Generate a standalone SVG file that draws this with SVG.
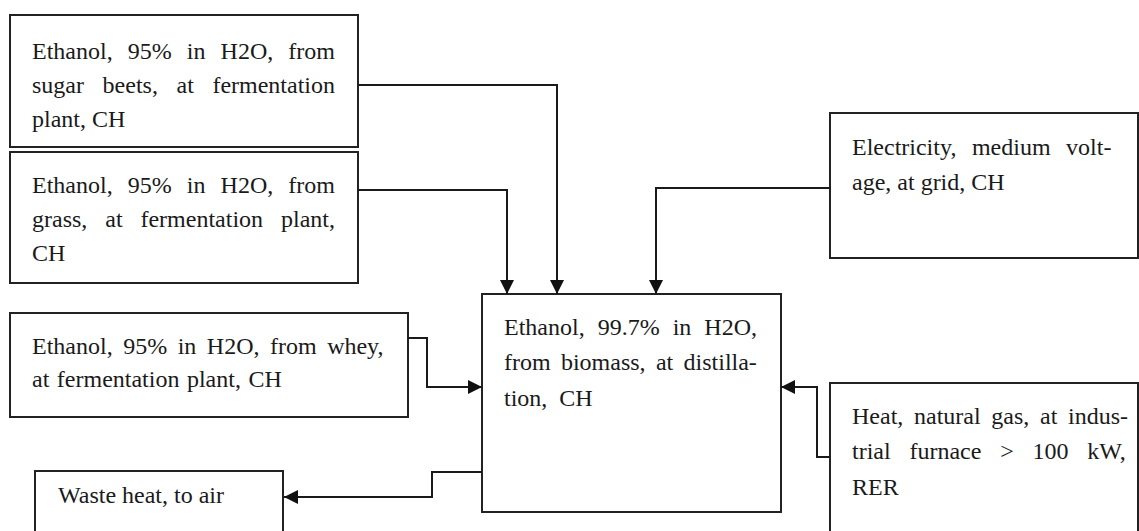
<svg xmlns="http://www.w3.org/2000/svg" width="1139" height="531" viewBox="0 0 1139 531">
  <style>
    .box { fill: #ffffff; stroke: #222222; stroke-width: 2; }
    .lbl { font-family: "Liberation Serif", "Times New Roman", serif; font-size: 24px; fill: #1a1a1a; }
    .wire { fill: none; stroke: #1a1a1a; stroke-width: 2; }
  </style>
  <defs>
    <marker id="arrow" markerUnits="userSpaceOnUse" markerWidth="14" markerHeight="14" refX="14" refY="7" orient="auto">
      <path d="M0,0 L14,7 L0,14 Z" fill="#111111"/>
    </marker>
  </defs>
  <rect width="1139" height="531" fill="#ffffff"/>

  <g id="sugar-beets">
    <rect class="box" x="10" y="15" width="348" height="132"/>
    <text class="lbl" x="32" y="59" word-spacing="9.1">Ethanol, 95% in H2O, from</text>
    <text class="lbl" x="32" y="93" word-spacing="12.6">sugar beets, at fermentation</text>
    <text class="lbl" x="32" y="127">plant, CH</text>
  </g>

  <g id="grass">
    <rect class="box" x="10" y="152" width="348" height="131"/>
    <text class="lbl" x="32" y="193" word-spacing="9.1">Ethanol, 95% in H2O, from</text>
    <text class="lbl" x="32" y="227" word-spacing="11.9">grass, at fermentation plant,</text>
    <text class="lbl" x="32" y="261">CH</text>
  </g>

  <g id="whey">
    <rect class="box" x="10" y="313" width="398" height="104"/>
    <text class="lbl" x="32" y="354" word-spacing="4.5">Ethanol, 95% in H2O, from whey,</text>
    <text class="lbl" x="32" y="387" word-spacing="1.5">at fermentation plant, CH</text>
  </g>

  <g id="waste-heat">
    <rect class="box" x="35" y="471" width="248" height="80"/>
    <text class="lbl" x="58" y="503">Waste heat, to air</text>
  </g>

  <g id="distillation">
    <rect class="box" x="482" y="294" width="299" height="218"/>
    <text class="lbl" x="504" y="335" word-spacing="7">Ethanol, 99.7% in H2O,</text>
    <text class="lbl" x="504" y="370" word-spacing="4.3">from biomass, at distilla-</text>
    <text class="lbl" x="504" y="406" word-spacing="6">tion, CH</text>
  </g>

  <g id="electricity">
    <rect class="box" x="830" y="113" width="308" height="145"/>
    <text class="lbl" x="852" y="155" word-spacing="9.5">Electricity, medium volt-</text>
    <text class="lbl" x="852" y="190">age, at grid, CH</text>
  </g>

  <g id="natural-gas-heat">
    <rect class="box" x="830" y="383" width="308" height="160"/>
    <text class="lbl" x="852" y="424" word-spacing="4.7">Heat, natural gas, at indus-</text>
    <text class="lbl" x="852" y="459" word-spacing="12.8">trial furnace &gt; 100 kW,</text>
    <text class="lbl" x="852" y="495">RER</text>
  </g>

  <g id="connectors">
    <path class="wire" d="M358,85 H557 V294" marker-end="url(#arrow)"/>
    <path class="wire" d="M358,190 H507 V294" marker-end="url(#arrow)"/>
    <path class="wire" d="M830,188 H656 V294" marker-end="url(#arrow)"/>
    <path class="wire" d="M408,338 H427 V387 H482" marker-end="url(#arrow)"/>
    <path class="wire" d="M830,457 H817 V387 H781" marker-end="url(#arrow)"/>
    <path class="wire" d="M482,472 H432 V497 H284" marker-end="url(#arrow)"/>
  </g>
</svg>
